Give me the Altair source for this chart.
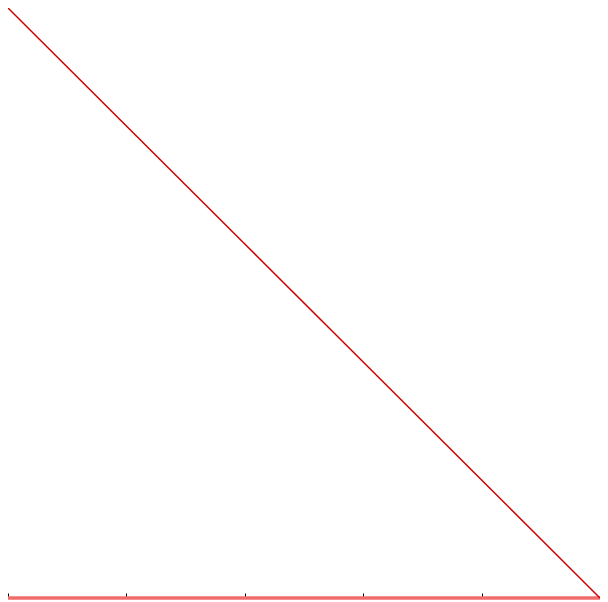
import altair as alt
import pandas as pd

# diagonal series
diag_x = [0, 1, 2, 3, 4, 5]
diag_y = [5, 4, 3, 2, 1, 0]
# flat series along the bottom
flat_x = [0, 1, 2, 3, 4, 5]
flat_y = [0, 0, 0, 0, 0, 0]

df_diag = pd.DataFrame({"x": diag_x, "y": diag_y})
df_flat = pd.DataFrame({"x": flat_x, "y": flat_y})

xs = alt.Scale(domain=[0, 5], nice=False, zero=False)
ys = alt.Scale(domain=[0, 5], nice=False, zero=False)

xaxis = alt.Axis(grid=False, domain=False, labels=False, title=None,
                 tickSize=4, tickColor="#000000", tickWidth=1, offset=-5,
                 values=[0, 1, 2, 3, 4, 5])

flat = alt.Chart(df_flat).mark_line(color="#f26b6b", strokeWidth=3.5).encode(
    x=alt.X("x:Q", scale=xs, axis=xaxis),
    y=alt.Y("y:Q", scale=ys, axis=None),
)

diag = alt.Chart(df_diag).mark_line(color="#cc0000", strokeWidth=1.5).encode(
    x=alt.X("x:Q", scale=xs, axis=xaxis),
    y=alt.Y("y:Q", scale=ys, axis=None),
)

chart = alt.layer(flat, diag).properties(
    width=592, height=590,
    padding={"top": 0, "left": 0, "right": 0, "bottom": 2},
    autosize=alt.AutoSizeParams(type="none"),
).configure_view(stroke=None)

chart.save("out.html", embed_options={"renderer": "svg", "actions": False})
